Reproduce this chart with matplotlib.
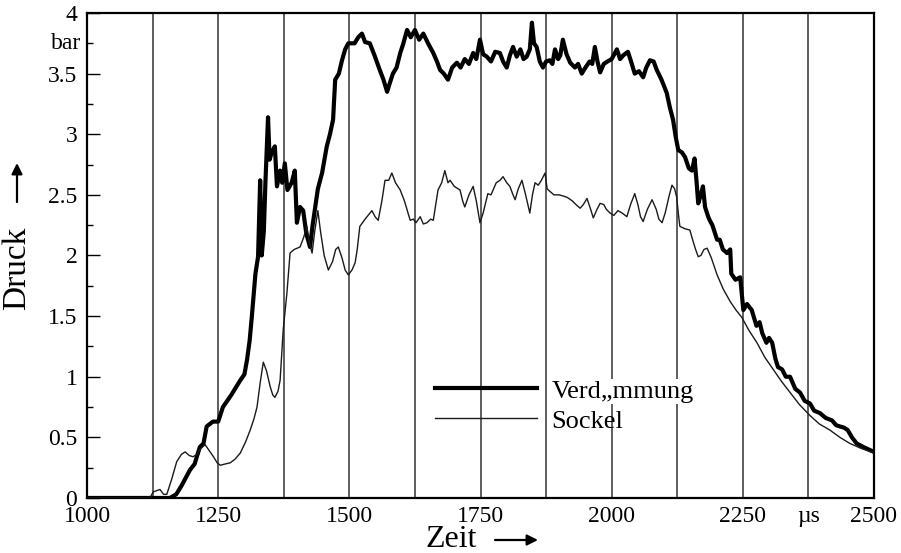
import numpy as np
import matplotlib
matplotlib.use("Agg")
import matplotlib.pyplot as plt

plt.rcParams['font.family'] = ['Liberation Serif', 'DejaVu Serif']

# Verdämmung (dicke Linie)
t_verd = [1000, 1100, 1150, 1158, 1170, 1180, 1196, 1205, 1215, 1222, 1228, 1240, 1250, 1259,
          1275, 1292, 1300, 1305, 1310, 1314, 1321, 1326, 1330, 1333, 1337, 1340, 1345, 1348,
          1352, 1358, 1362, 1368, 1372, 1377, 1382, 1390, 1396, 1400, 1406, 1412, 1418, 1425,
          1430, 1434, 1440, 1448, 1457, 1463, 1469, 1473, 1480, 1486, 1492, 1498, 1510, 1517,
          1524, 1530, 1539, 1548, 1558, 1565, 1572, 1577, 1583, 1590, 1597, 1603, 1610, 1617,
          1625, 1633, 1641, 1650, 1660, 1667, 1673, 1680, 1688, 1696, 1705, 1712, 1720, 1728,
          1736, 1742, 1749, 1755, 1762, 1770, 1778, 1787, 1793, 1800, 1806, 1812, 1819, 1826,
          1832, 1838, 1844, 1848, 1852, 1857, 1863, 1869, 1875, 1882, 1887, 1892, 1898, 1902,
          1907, 1914, 1921, 1930, 1936, 1943, 1950, 1958, 1963, 1968, 1973, 1978, 1985, 1992,
          2000, 2005, 2010, 2016, 2022, 2031, 2037, 2044, 2052, 2060, 2066, 2073, 2080, 2086,
          2095, 2105, 2111, 2117, 2122, 2127, 2134, 2140, 2147, 2153, 2158, 2162, 2165, 2170,
          2174, 2178, 2184, 2187, 2192, 2201, 2206, 2212, 2220, 2226, 2228, 2236, 2245, 2251,
          2258, 2267, 2276, 2282, 2287, 2295, 2300, 2306, 2312, 2317, 2325, 2332, 2340, 2350,
          2359, 2368, 2378, 2386, 2397, 2408, 2420, 2428, 2435, 2443, 2450, 2458, 2467, 2480,
          2490, 2500]
p_verd = [0, 0, 0, 0.0, 0.03, 0.10, 0.23, 0.28, 0.42, 0.45, 0.59, 0.63, 0.63, 0.75,
          0.85, 0.97, 1.02, 1.14, 1.30, 1.49, 1.85, 1.99, 2.62, 2.00, 2.20, 2.60, 3.14, 2.79,
          2.85, 2.90, 2.57, 2.70, 2.60, 2.76, 2.54, 2.60, 2.70, 2.27, 2.40, 2.37, 2.18, 2.07,
          2.25, 2.37, 2.55, 2.68, 2.90, 3.00, 3.12, 3.45, 3.50, 3.61, 3.70, 3.75, 3.75, 3.80,
          3.83, 3.76, 3.75, 3.65, 3.53, 3.45, 3.35, 3.42, 3.50, 3.55, 3.67, 3.75, 3.86, 3.80,
          3.86, 3.78, 3.83, 3.75, 3.67, 3.60, 3.53, 3.50, 3.45, 3.55, 3.59, 3.55, 3.62, 3.58,
          3.67, 3.62, 3.78, 3.66, 3.64, 3.60, 3.68, 3.67, 3.60, 3.55, 3.65, 3.72, 3.64, 3.70,
          3.62, 3.64, 3.70, 3.92, 3.75, 3.72, 3.60, 3.55, 3.60, 3.61, 3.58, 3.70, 3.62, 3.65,
          3.78, 3.66, 3.59, 3.55, 3.58, 3.50, 3.55, 3.60, 3.58, 3.72, 3.60, 3.51, 3.58, 3.60,
          3.62, 3.66, 3.70, 3.62, 3.65, 3.68, 3.60, 3.50, 3.52, 3.47, 3.55, 3.61, 3.60, 3.53,
          3.45, 3.34, 3.22, 3.12, 2.98, 2.87, 2.85, 2.81, 2.72, 2.70, 2.80, 2.60, 2.43, 2.50,
          2.57, 2.40, 2.32, 2.29, 2.25, 2.13, 2.13, 2.05, 2.02, 2.05, 1.85, 1.80, 1.82, 1.55,
          1.60, 1.55, 1.42, 1.45, 1.36, 1.28, 1.32, 1.28, 1.15, 1.08, 1.06, 1.00, 1.00, 0.90,
          0.87, 0.80, 0.78, 0.72, 0.70, 0.66, 0.64, 0.60, 0.59, 0.58, 0.56, 0.50, 0.45, 0.42,
          0.40, 0.38]

# Sockel (duenne Linie)
t_sockel = [1000, 1120, 1126, 1139, 1146, 1152, 1161, 1171, 1180, 1187, 1195, 1202, 1210, 1215,
            1225, 1233, 1241, 1248, 1254, 1263, 1273, 1282, 1292, 1302, 1311, 1318, 1324, 1330,
            1336, 1342, 1349, 1354, 1358, 1364, 1368, 1374, 1381, 1384, 1387, 1395, 1406, 1413,
            1419, 1424, 1429, 1434, 1440, 1445, 1452, 1460, 1468, 1474, 1479, 1486, 1492, 1498,
            1505, 1511, 1515, 1520, 1530, 1543, 1549, 1555, 1562, 1568, 1575, 1581, 1588, 1597,
            1605, 1616, 1622, 1627, 1635, 1641, 1648, 1655, 1660, 1669, 1676, 1682, 1688, 1692,
            1700, 1711, 1716, 1720, 1728, 1736, 1742, 1749, 1755, 1764, 1770, 1780, 1787, 1793,
            1800, 1806, 1812, 1816, 1822, 1829, 1836, 1844, 1849, 1854, 1860, 1866, 1873, 1877,
            1882, 1890, 1900, 1908, 1915, 1925, 1932, 1940, 1946, 1953, 1960, 1965, 1972, 1978,
            1985, 1990, 1997, 2004, 2012, 2020, 2029, 2036, 2044, 2050, 2055, 2060, 2068, 2077,
            2085, 2090, 2096, 2102, 2110, 2115, 2120, 2124, 2127, 2130, 2140, 2149, 2155, 2160,
            2165, 2170, 2176, 2182, 2190, 2201, 2213, 2226, 2237, 2248, 2262, 2277, 2292, 2308,
            2324, 2340, 2358, 2378, 2396, 2416, 2435, 2454, 2475, 2500]
p_sockel = [0, 0, 0.05, 0.07, 0.03, 0.03, 0.15, 0.30, 0.36, 0.38, 0.35, 0.34, 0.36, 0.40,
            0.44, 0.39, 0.34, 0.29, 0.27, 0.28, 0.29, 0.32, 0.37, 0.46, 0.56, 0.65, 0.75, 0.95,
            1.12, 1.05, 0.92, 0.85, 0.83, 0.88, 0.97, 1.39, 1.69, 1.85, 2.02, 2.05, 2.07, 2.15,
            2.24, 2.10, 2.02, 2.20, 2.37, 2.20, 2.00, 1.88, 1.95, 2.05, 2.07, 1.98, 1.88, 1.84,
            1.88, 1.94, 2.05, 2.24, 2.30, 2.37, 2.32, 2.29, 2.45, 2.62, 2.62, 2.68, 2.60, 2.54,
            2.45, 2.29, 2.30, 2.27, 2.32, 2.26, 2.27, 2.30, 2.29, 2.54, 2.60, 2.70, 2.60, 2.62,
            2.57, 2.54, 2.45, 2.40, 2.50, 2.57, 2.45, 2.27, 2.35, 2.51, 2.50, 2.60, 2.62, 2.65,
            2.60, 2.57, 2.50, 2.46, 2.55, 2.62, 2.50, 2.35, 2.50, 2.60, 2.58, 2.62, 2.68, 2.55,
            2.53, 2.50, 2.50, 2.49, 2.48, 2.45, 2.42, 2.39, 2.42, 2.47, 2.38, 2.31, 2.38, 2.43,
            2.42, 2.38, 2.35, 2.33, 2.37, 2.35, 2.32, 2.42, 2.51, 2.42, 2.32, 2.28, 2.38, 2.46,
            2.38, 2.30, 2.27, 2.35, 2.50, 2.58, 2.55, 2.48, 2.35, 2.24, 2.22, 2.21, 2.12, 2.05,
            1.99, 2.00, 2.05, 2.06, 1.98, 1.84, 1.72, 1.62, 1.55, 1.49, 1.38, 1.28, 1.16, 1.06,
            0.96, 0.87, 0.77, 0.68, 0.61, 0.56, 0.50, 0.45, 0.41, 0.37]

x_ticks = [1000, 1250, 1500, 1750, 2000, 2250, 2375, 2500]
x_labels = ['1000', '1250', '1500', '1750', '2000', '2250', 'µs', '2500']
x_minor = [1125, 1375, 1625, 1875, 2125]
y_ticks = [0, 0.5, 1, 1.5, 2, 2.5, 3, 3.5, 4]
y_labels = ['0', '0.5', '1', '1.5', '2', '2.5', '3', '3.5', '4']

fig = plt.figure(figsize=(9.01, 5.53), dpi=100)
ax = fig.add_axes([0.0966, 0.0995, 0.8734, 0.877])

ax.plot(t_verd, p_verd, color='black', lw=3.0, label='Verd„mmung', zorder=3)
ax.plot(t_sockel, p_sockel, color='#1a1a1a', lw=1.0, label='Sockel', zorder=3)

ax.set_xlim(1000, 2500)
ax.set_ylim(0, 4)

ax.set_xticks(x_ticks)
ax.set_xticklabels(x_labels)
ax.set_xticks(x_minor, minor=True)
ax.tick_params(axis='x', which='both', length=0, pad=6, labelsize=17)
ax.grid(True, axis='x', which='both', color='#333333', lw=1.1, zorder=1)

ax.set_yticks(y_ticks)
ax.set_yticklabels(y_labels)
ax.set_yticks(np.arange(0.25, 4, 0.5), minor=True)
ax.tick_params(axis='y', which='major', direction='in', length=9, width=1, pad=7, labelsize=17)
ax.tick_params(axis='y', which='minor', direction='in', length=4, width=1)
ax.text(-0.008, 3.75, 'bar', transform=ax.get_yaxis_transform(), ha='right', va='center',
        fontsize=17)

for s in ax.spines.values():
    s.set_linewidth(1.6)

leg = ax.legend(loc='upper left', bbox_to_anchor=(0.4425, 0.245), frameon=False,
                handlelength=3.85, handletextpad=0.55, labelspacing=0.25, fontsize=19,
                borderaxespad=0, borderpad=0)
leg.get_texts()[0].set_bbox(dict(facecolor='white', edgecolor='none', pad=1))
leg.set_zorder(5)

# Achsenbeschriftungen mit Pfeilen
fig.text(17 / 901, 1 - 268 / 553, 'Druck', rotation=90, ha='center', va='center', fontsize=24)
fig.text(451 / 901, 1 - 547 / 553, 'Zeit', ha='center', va='baseline', fontsize=23)
arrow = dict(arrowstyle='-|>', color='black', lw=1.6, mutation_scale=16, shrinkA=0, shrinkB=0)
ax.annotate('', xy=(17 / 901, 1 - 163 / 553), xytext=(17 / 901, 1 - 202 / 553),
            xycoords='figure fraction', textcoords='figure fraction', arrowprops=arrow)
ax.annotate('', xy=(538 / 901, 1 - 540 / 553), xytext=(495 / 901, 1 - 540 / 553),
            xycoords='figure fraction', textcoords='figure fraction', arrowprops=arrow)

fig.savefig('out.png', dpi=100)
